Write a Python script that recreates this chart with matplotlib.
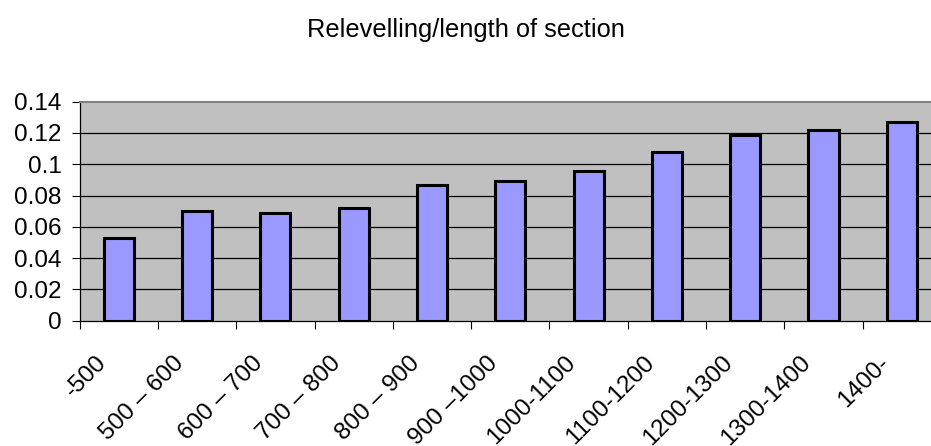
import matplotlib
matplotlib.use("Agg")
import matplotlib.pyplot as plt
from matplotlib.transforms import ScaledTranslation
import numpy as np

categories = ["-500", "500 \u2013 600", "600 \u2013 700", "700 \u2013 800", "800 \u2013 900",
              "900 \u20131000", "1000-1100", "1100-1200", "1200-1300", "1300-1400", "1400-"]
values = [0.053, 0.070, 0.069, 0.072, 0.087, 0.089, 0.096, 0.108, 0.119, 0.122, 0.127]
y_ticks = [0, 0.02, 0.04, 0.06, 0.08, 0.1, 0.12, 0.14]
y_tick_labels = ["0", "0.02", "0.04", "0.06", "0.08", "0.1", "0.12", "0.14"]
title = "Relevelling/length of section"

plt.rcParams['font.family'] = ['Liberation Sans', 'DejaVu Sans']

W, H, DPI = 931, 446, 100
fig = plt.figure(figsize=(W / DPI, H / DPI), dpi=DPI)
left_px, right_px, top_px, bot_px = 79.6, 941.0, 101.7, 320.7
ax = fig.add_axes([left_px / W, (H - bot_px) / H, (right_px - left_px) / W, (bot_px - top_px) / H])
ax.set_facecolor("#C0C0C0")

x = np.arange(len(categories))
ax.bar(x, values, width=0.385, color="#9999FF", edgecolor="black", linewidth=2.2, zorder=3)

ax.set_xlim(-0.5, len(categories) - 0.5)
ax.set_ylim(0, 0.14)

ax.set_yticks(y_ticks)
ax.set_yticklabels(y_tick_labels)
for yv in y_ticks[1:-1]:
    ax.axhline(yv, color="black", linewidth=0.9, zorder=1)

ax.tick_params(axis='y', direction='out', length=6, width=0.8, pad=7, labelsize=17.5, colors='black')

ax.set_xticks(x)
ax.set_xticklabels(categories)
ax.set_xticks(np.arange(-0.5, len(categories), 1.0), minor=True)
ax.tick_params(axis='x', which='major', length=0, pad=28, labelsize=17.5)
ax.tick_params(axis='x', which='minor', direction='out', length=6, width=0.8)
offset = ScaledTranslation(-16 / DPI, 0, fig.dpi_scale_trans)
for lab in ax.get_xticklabels():
    lab.set_rotation(45)
    lab.set_rotation_mode('anchor')
    lab.set_ha('right')
    lab.set_va('center')
    lab.set_transform(lab.get_transform() + offset)

ax.spines['top'].set_color('#808080')
ax.spines['top'].set_linewidth(1.5)
ax.spines['right'].set_visible(False)
ax.spines['left'].set_color('black')
ax.spines['left'].set_linewidth(0.9)
ax.spines['bottom'].set_color('black')
ax.spines['bottom'].set_linewidth(0.9)

fig.text(0.5, 1 - 30 / H, title, ha='center', va='center', fontsize=18.3)

fig.savefig("out.png", dpi=DPI)
